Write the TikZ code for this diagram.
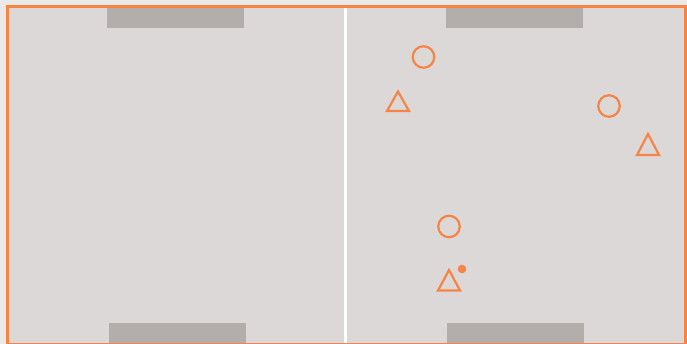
\documentclass[tikz,border=0pt]{standalone}
\definecolor{pitch}{HTML}{DCD8D7}
\definecolor{outside}{HTML}{EBE9E8}
\definecolor{goalgray}{HTML}{B3AEAB}
\definecolor{accent}{HTML}{F58445}
\begin{document}
\begin{tikzpicture}[x=1pt,y=-1pt,
  goal/.style={fill=goalgray,draw=none},
  marker/.style={draw=accent,line width=2.2pt},
  tri/.style={marker,line join=miter}]
\useasboundingbox (0,0) rectangle (687,344);
\fill[outside] (0,0) rectangle (687,344);
\fill[pitch] (7.5,6.5) rectangle (685.5,344.5);
% goals
\fill[goal] (107,8) rectangle (244,28);
\fill[goal] (446,8) rectangle (583,28);
\fill[goal] (109,323) rectangle (246,344);
\fill[goal] (447,323) rectangle (584,344);
% centre line
\draw[white,line width=2.5pt] (345.5,8) -- (345.5,344);
% border
\draw[accent,line width=2.8pt] (7.5,344.5) -- (7.5,6.5) -- (685.5,6.5) -- (685.5,344.5) -- cycle;
% circles
\node[marker,circle,minimum size=21.5pt,inner sep=0pt] (c1) at (423.5,57) {};
\node[marker,circle,minimum size=21.5pt,inner sep=0pt] (c2) at (609,106) {};
\node[marker,circle,minimum size=21.5pt,inner sep=0pt] (c3) at (449,226.5) {};
% triangles
\draw[tri] (398,91.5) -- (409,111) -- (387,111) -- cycle;
\draw[tri] (648,134) -- (659,155) -- (637,155) -- cycle;
\draw[tri] (449,270) -- (460,290.5) -- (438,290.5) -- cycle;
% ball
\fill[accent] (462,269) circle (4.3);
\end{tikzpicture}
\end{document}
